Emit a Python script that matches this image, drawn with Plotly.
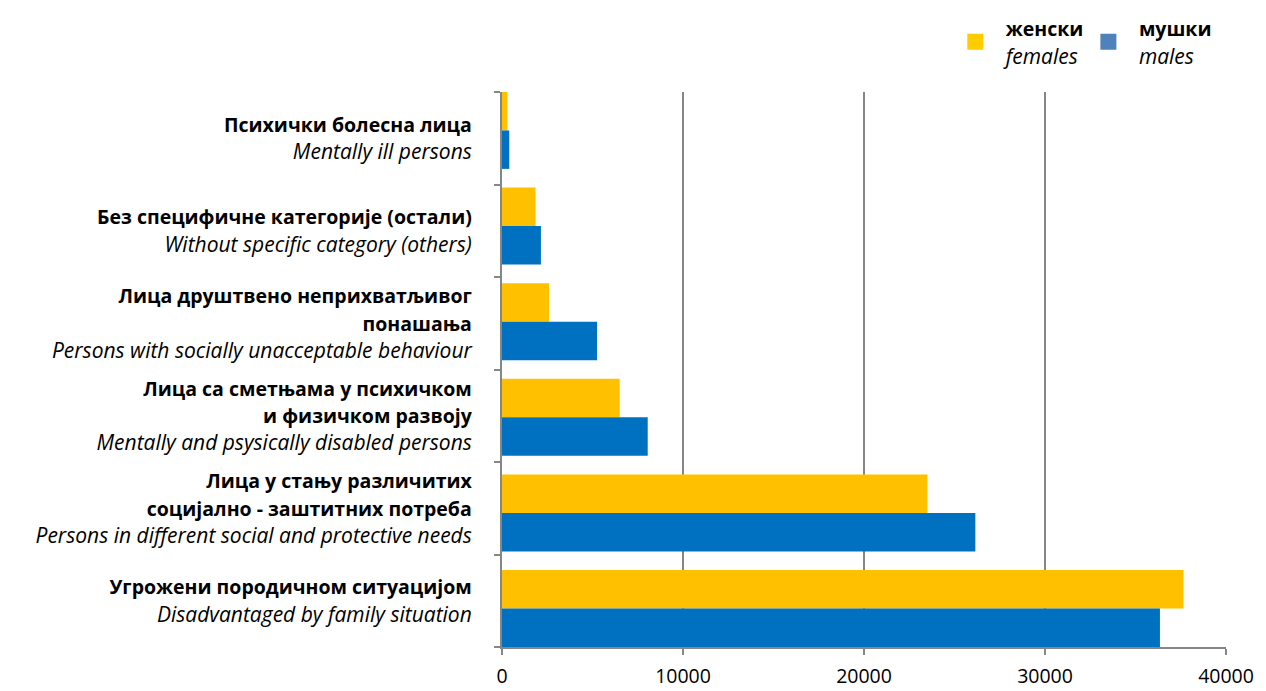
import plotly.graph_objects as go

# ---- data ----
categories_sr = [
    "Психички болесна лица",
    "Без специфичне категорије (остали)",
    "Лица друштвено неприхватљивог<br>понашања",
    "Лица са сметњама у психичком<br>и физичком развоју",
    "Лица у стању различитих<br>социјално - заштитних потреба",
    "Угрожени породичном ситуацијом",
]
categories_en = [
    "Mentally ill persons",
    "Without specific category (others)",
    "Persons with socially unacceptable behaviour",
    "Mentally and psysically disabled persons",
    "Persons in different social and protective needs",
    "Disadvantaged by family situation",
]
females = [300, 1850, 2600, 6500, 23500, 37650]
males = [400, 2150, 5250, 8050, 26150, 36350]
x_ticks = [0, 10000, 20000, 30000, 40000]

cat_keys = [f"c{i}" for i in range(len(categories_sr))]


def two_style(bold_txt, ital_txt, pre=""):
    bold_lines = bold_txt.split("<br>")
    parts = [f"{pre}<span style='font-size:19.5px'><b>{b}</b></span>" for b in bold_lines]
    parts.append(f"{pre}<i>{ital_txt}</i>")
    return "<br>".join(parts)


labels = [two_style(s, e) for s, e in zip(categories_sr, categories_en)]

FONT = "Open Sans, Noto Sans, sans-serif"
GRAY = "#868686"
BARGAP = 0.196
n = len(cat_keys)
SP = "\u2002"

fig = go.Figure()
fig.add_trace(go.Bar(y=cat_keys, x=females, orientation="h", name="f",
                     marker=dict(color="#FFC000", line=dict(width=0)),
                     showlegend=False))
fig.add_trace(go.Bar(y=cat_keys, x=males, orientation="h", name="m",
                     marker=dict(color="#0070C0", line=dict(width=0)),
                     showlegend=False))
# legend-only entries
fig.add_trace(go.Scatter(x=[None], y=[None], mode="markers",
                         marker=dict(symbol="square", size=16, color="#FFCC00"),
                         name=two_style("женски", "females", SP)))
fig.add_trace(go.Scatter(x=[None], y=[None], mode="markers",
                         marker=dict(symbol="square", size=16, color="#4F81BD"),
                         name=two_style("мушки", "males", SP)))
# label axis carrier
fig.add_trace(go.Scatter(x=[None], y=[None], yaxis="y2", showlegend=False,
                         hoverinfo="skip"))

fig.update_layout(
    width=1258, height=683,
    margin=dict(l=494, r=40, t=84, b=44, autoexpand=False),
    paper_bgcolor="white", plot_bgcolor="white",
    barmode="group", bargap=BARGAP, bargroupgap=0,
    font=dict(family=FONT, color="black"),
    xaxis=dict(range=[0, 40000], tickvals=x_ticks, showgrid=True,
               gridcolor=GRAY, gridwidth=2, showline=True, linecolor=GRAY,
               linewidth=2, ticks="outside", ticklen=6, tickwidth=2,
               tickcolor=GRAY, zeroline=False, tickfont=dict(size=19.5),
               tickformat="d", ticklabelstandoff=5, automargin=False),
    yaxis=dict(type="category", categoryarray=cat_keys, categoryorder="array",
               range=[n - 0.5 - BARGAP / 2, -0.5 + BARGAP / 2],
               visible=False, showgrid=False, zeroline=False,
               automargin=False),
    yaxis2=dict(overlaying="y", side="left", anchor="x",
                range=[n - 0.5, -0.5], tickvals=list(range(n)),
                ticktext=labels, ticks="", showgrid=False, zeroline=False,
                showline=True, linecolor=GRAY, linewidth=2,
                tickfont=dict(size=21), ticklabelstandoff=24,
                automargin=False,
                minor=dict(tickvals=[i - 0.5 for i in range(n + 1)],
                           ticks="outside", ticklen=6, tickwidth=2,
                           tickcolor=GRAY)),
    legend=dict(orientation="h", xref="container", yref="container",
                x=0.753, xanchor="left", y=1.0, yanchor="top",
                font=dict(size=21), bgcolor="rgba(0,0,0,0)"),
)

fig.write_html("out.html")
